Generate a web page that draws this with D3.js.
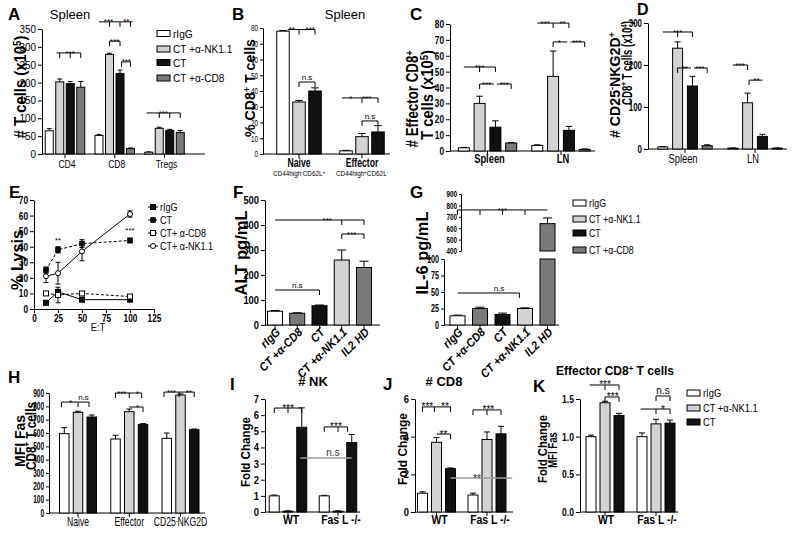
<!DOCTYPE html>
<html><head><meta charset="utf-8">
<script src="https://cdn.jsdelivr.net/npm/d3@7"></script>
<style>
body{margin:0;background:#fff}
svg{display:block}
</style></head><body>
<svg id="c" width="800" height="534"></svg>
<script>
// ---------------- DATA ----------------
const grp4 = ["rIgG","CT +α-NK1.1","CT","CT +α-CD8"];
const grp3 = ["rIgG","CT +α-NK1.1","CT"];
const grpF = ["rIgG","CT +α-CD8","CT","CT +α-NK1.1","IL2 HD"];

// A
const catsA = ["CD4","CD8","Tregs"];
const valsA = [[65,202,197,187],[52,279,225,15],[5,72,66,60]];
const errsA = [[6,8,6,16],[3,3,10,2],[1,3,3,6]];
const ticksA = [0,50,100,150,200,250,300,350];
// B
const catsB = ["Naive","Effector"];
const subB = ["CD44high^{-}CD62L^{+}","CD44high^{+}CD62L^{-}"];
const valsB = [[78,33,40],[2,11,14]];
const errsB = [[0.4,1,2],[0.3,2,4]];
const ticksB = [0,10,20,30,40,50,60,70,80];
// C
const catsC = ["Spleen","LN"];
const valsC = [[2,30,15,5],[3.5,47,13,1]];
const errsC = [[0.3,4.5,4,0.3],[0.4,16,2.5,0.3]];
const ticksC = [0,10,20,30,40,50,60,70,80];
// D
const catsD = ["Spleen","LN"];
const valsD = [[5,240,150,8],[2,110,30,2]];
const errsD = [[1,15,23,2],[0.5,23,5,0.5]];
const ticksD = [0,100,200,300];
// E
const lysisET = [12.5,25,50,100];
const lysisNames = ["rIgG","CT","CT+ α-CD8","CT+ α-NK1.1"];
const lysisVals = [[4,11,6,6],[25,38,42,44],[10,9,10,8],[21,23,37,61]];
const lysisErrs = [[0.5,1.5,0.5,0.5],[2,2,2.5,1.5],[1,5,1,1],[4,7,6,2]];
const ticksEx = [0,25,50,75,100,125];
const ticksEy = [0,10,20,30,40,50,60,70];
// F
const valsF = [55,47,77,260,230];
const errsF = [3,2,3,40,25];
const ticksF = [0,100,200,300,400,500];
// G
const valsG = [14,25,16,25,640];
const errsG = [1,2,2,1,50];
const ticksGlow = [0,25,50,75,100];
const ticksGhigh = [400,500,600,700,800,900];
// H
const catsH = ["Naive","Effector","CD25^{-}NKG2D"];
const valsH = [[595,755,720],[555,760,665],[560,885,625]];
const errsH = [[45,8,15],[28,20,5],[40,8,5]];
const ticksH = [0,100,200,300,400,500,600,700,800,900];
// I, J, K
const catsKO = ["WT","Fas L -/-"];
const valsI = [[1.0,0.05,5.25],[1.0,0.05,4.3]];
const errsI = [[0.05,0.02,1.2],[0.03,0.02,0.5]];
const ticksI = [0,1,2,3,4,5,6,7];
const valsJ = [[1.0,3.7,2.3],[0.9,3.85,4.15]];
const errsJ = [[0.07,0.25,0.04],[0.1,0.4,0.4]];
const ticksJ = [0,2,4,6];
const valsK = [[1.0,1.45,1.28],[1.0,1.17,1.18]];
const errsK = [[0.02,0.02,0.03],[0.05,0.06,0.04]];
const ticksK = [0,0.5,1.0,1.5];

// significance annotations (group, bar positions, value level, ticks, labels)
const sigA = [
 {g:0,s1:0.7,s2:3,v:283,ticks:[1,2,3],labels:[["***",2]]},
 {g:1,s1:0,s2:3.2,v:370,ticks:[1,2,3],labels:[["***",0.9],["**",2.6]]},
 {g:1,s1:1,s2:2,v:316,ticks:[1,2],labels:[["***",1.5]]},
 {g:1,s1:2.15,s2:3,v:258,ticks:[2.15,3],labels:[["***",2.6]]},
 {g:2,s1:-0.2,s2:3,v:115,ticks:[1,2,3],labels:[["***",1.4]]}
];
const sigB = [
 {g:0,s1:0.3,s2:2,v:79,ticks:[1,2],labels:[["**",0.55],["***",1.7]]},
 {g:0,s1:1,s2:2,v:45.7,ticks:[1,2],labels:[["n.s",1.5]]},
 {g:1,s1:-0.25,s2:2,v:35.6,ticks:[1,2],labels:[["*",0.3],["***",1.3]]},
 {g:1,s1:1,s2:2,v:21,ticks:[1,2],labels:[["n.s",1.5]]}
];
const sigC = [
 {g:0,s1:0,s2:2,v:52.9,ticks:[1,2],labels:[["***",1]]},
 {g:0,s1:1,s2:1.9,v:42.2,ticks:[1],labels:[["***",1.45]]},
 {g:0,s1:2.1,s2:3,v:42.2,ticks:[3],labels:[["***",2.55]]},
 {g:1,s1:0,s2:2,v:80.6,ticks:[1,2],labels:[["***",0.5],["**",1.6]]},
 {g:1,s1:1,s2:1.9,v:68.7,ticks:[1],labels:[["*",1.4]]},
 {g:1,s1:2.1,s2:3,v:68.7,ticks:[3],labels:[["***",2.5]]}
];
const sigD = [
 {g:0,s1:0,s2:2,v:278.6,ticks:[1,2],labels:[["***",1]]},
 {g:0,s1:1,s2:1.9,v:193,ticks:[1],labels:[["**",1.5]]},
 {g:0,s1:2.1,s2:3,v:193,ticks:[3],labels:[["***",2.5]]},
 {g:1,s1:0,s2:1,v:200,ticks:[1],labels:[["***",0.5]]},
 {g:1,s1:1.1,s2:2,v:164,ticks:[1.1],labels:[["**",1.6]]}
];
const sigE = [["**",25,44],["***",100,51]];
const sigF = [
 {g:0,s1:0,s2:4,v:420,ticks:[3,4],labels:[["***",2.35]]},
 {g:0,s1:3,s2:4,v:364,ticks:[3,4],labels:[["***",3.45]]},
 {g:0,s1:0,s2:2,v:140,ticks:[2],labels:[["n.s",1]]}
];
const sigG = [
 {g:0,s1:0,s2:4,v:760,ticks:[0,1,2,3],labels:[["***",2]]},
 {g:0,s1:0,s2:2.75,v:48.5,ticks:[2.75],labels:[["n.s",1.85]]}
];
const sigH = [
 {g:0,s1:-0.2,s2:1.8,v:832,ticks:[-0.2,1,1.8],labels:[["*",0.45],["n.s",1.4]]},
 {g:1,s1:0,s2:1.9,v:900,ticks:[0,1,1.9],labels:[["***",0.45],["*",1.6]]},
 {g:1,s1:1,s2:2,v:795,ticks:[2],labels:[["*",1.6]]},
 {g:2,s1:-0.2,s2:2,v:907,ticks:[-0.2,0.9,2],labels:[["***",0.35],["**",1.6]]}
];
const sigI = [
 {g:0,s1:0,s2:2,v:6.44,ticks:[0,1,2],labels:[["***",1]]},
 {g:1,s1:0,s2:1.7,v:5.27,ticks:[0,1,1.7],labels:[["***",0.85]]},
 {g:0,s1:1.9,g2:1,s2:2,v:3.35,ticks:[],labels:[["n.s",4.27]],gray:true}
];
const sigJ = [
 {g:0,s1:0,s2:2,v:5.58,ticks:[0,0.85,2],labels:[["***",0.35],["**",1.6]]},
 {g:0,s1:1,s2:2,v:4.14,ticks:[2],labels:[["**",1.5]]},
 {g:1,s1:0,s2:2,v:5.42,ticks:[0,1,2],labels:[["***",1.1]]},
 {g:0,s1:2,g2:1,s2:2.8,v:1.8,ticks:[],labels:[["**",3.9]],gray:true}
];
const sigK = [
 {g:0,s1:-0.1,s2:2,v:1.686,ticks:[1,2],labels:[["***",1]]},
 {g:0,s1:1,s2:2,v:1.527,ticks:[1,2],labels:[["***",1.55]]},
 {g:1,s1:-0.1,s2:2,v:1.367,ticks:[1,2],labels:[["*",1.5]]},
 {g:1,s1:1,s2:2,v:1.54,ticks:[1,2],labels:[["n.s",1.5]]}
];

// ---------------- DRAWING ----------------
const svg = d3.select("#c");
const FS = "'Liberation Sans',Arial,sans-serif";
const COL = {"rIgG":"#ffffff","CT +α-NK1.1":"#d3d3d3","CT":"#111111","CT +α-CD8":"#7a7a7a","IL2 HD":"#7a7a7a"};

function rich(sel, str){
  const re=/\^\{([^}]*)\}/g; let last=0,m;
  while((m=re.exec(str))){
    if(m.index>last) sel.append("tspan").text(str.slice(last,m.index));
    sel.append("tspan").attr("baseline-shift","super").attr("font-size","65%").text(m[1]);
    last=re.lastIndex;
  }
  if(last<str.length) sel.append("tspan").text(str.slice(last));
  return sel;
}
function txt(x,y,str,o={}){
  const t=svg.append("text").attr("x",0).attr("y",0)
    .attr("font-family",FS).attr("font-size",o.fs||12)
    .attr("font-weight",o.fw||"normal").attr("font-style",o.fst||"normal")
    .attr("text-anchor",o.anchor||"start").attr("fill",o.fill||"#000");
  rich(t,str);
  let sx=o.sx||1;
  if(o.len){ const L=t.node().getComputedTextLength(); if(L>0) sx=o.len/L; }
  t.attr("transform",`translate(${x},${y})`+(o.rot?` rotate(${o.rot})`:"")+(sx!==1?` scale(${sx},1)`:""));
  return t;
}
function ytitle(x,y,str,fs,len){ txt(x,y,str,{fs:fs,fw:"bold",anchor:"middle",rot:-90,len:len}); }
function legend(x,rows,keys,sx){
  keys.forEach((k,i)=>{
    svg.append("rect").attr("x",x).attr("y",rows[i]-3).attr("width",13).attr("height",6)
      .attr("fill",COL[k]).attr("stroke","#000").attr("stroke-width",1);
    txt(x+16,rows[i]+4,k,{fs:11,sx:sx});
  });
}
function styleAxis(ax,fs,sx,fw,off){
  ax.selectAll("text").attr("font-size",fs).attr("font-weight",fw).attr("font-family",FS).attr("fill","#000");
  if(off!==undefined) ax.selectAll("text").attr("x",-off/sx).attr("transform",`scale(${sx},1)`);
  else ax.selectAll("text").attr("transform",`scale(${sx},1)`);
  ax.selectAll("line,path").attr("stroke","#000");
}

function barPanel(o){
  const G=svg.append("g");
  const single=o.series.length===1;
  const y=d3.scaleLinear().domain(o.yDomain||o.axes[0].domain).range(o.yRange||o.axes[0].range);
  const xo=d3.scalePoint().domain(o.cats).range(o.xRange);
  const half=(o.series.length-1)/2*(o.step||0);
  const xi=d3.scalePoint().domain(o.series).range([-half,half]);
  const ist=single?xo.step():xi.step();
  const px=(g,s)=> single ? xo(o.cats[0])+(g+s)*xo.step() : xo(o.cats[g])+xi(o.series[0])+s*ist;
  // axes
  o.axes.forEach(a=>{
    const sc=d3.scaleLinear().domain(a.domain).range(a.range);
    const ts=a.tickSize||o.tickSize||4;
    const ax=G.append("g").attr("transform",`translate(${a.x||o.axisX},0)`)
      .call(d3.axisLeft(sc).tickValues(a.ticks).tickSize(ts).tickSizeOuter(0).tickFormat(a.fmt||(d=>d)));
    styleAxis(ax,a.fs||o.tickFs||11,a.sx||o.tickSx||0.8,o.tickFw||"bold",ts+2);
  });
  const y0=y(0);
  G.append("line").attr("x1",o.axisX).attr("x2",o.axisEnd).attr("y1",y0).attr("y2",y0).attr("stroke","#000");
  o.cats.forEach(c=>G.append("line").attr("x1",xo(c)).attr("x2",xo(c)).attr("y1",y0).attr("y2",y0+4).attr("stroke","#000"));
  // bars
  o.cats.forEach((c,gi)=>o.series.forEach((s,si)=>{
    const v=o.vals[gi][si], e=o.errs[gi][si];
    const cx=xo(c)+xi(s), hw=o.barW/2, cw=hw*0.6;
    const fill=COL[single?c:s];
    G.append("line").attr("x1",cx).attr("x2",cx).attr("y1",y(v)).attr("y2",y(v+e)).attr("stroke","#000");
    G.append("line").attr("x1",cx-cw).attr("x2",cx+cw).attr("y1",y(v+e)).attr("y2",y(v+e)).attr("stroke","#000");
    const seg=(a,b)=>G.append("rect").attr("x",cx-hw).attr("y",y(b)).attr("width",o.barW).attr("height",Math.max(0,y(a)-y(b)))
      .attr("fill",fill).attr("stroke","#000").attr("stroke-width",1);
    if(o.brk && v>o.brk[0]){ seg(0,o.brk[0]); seg(o.brk[1],v); } else seg(0,v);
  }));
  // category labels
  o.cats.forEach((c,gi)=>{
    if(o.rotLab){
      txt(xo(c)+6,o.labY,c,{fs:12,fw:"bold",fst:"italic",anchor:"end",rot:-45,sx:0.9});
    } else {
      txt(xo(c)+(o.labDx||0),o.labY,c,{fs:o.labFs||12,fw:o.labFw||"normal",anchor:"middle",sx:o.labSx||0.75});
      if(o.sub) txt(xo(c)+(o.labDx||0),o.labY+9,o.sub[gi],{fs:8,anchor:"middle",sx:0.8});
    }
  });
  // significance brackets
  const sfs=o.sigFs||8;
  (o.sig||[]).forEach(b=>{
    const col=b.gray?"#9a9a9a":"#000";
    const yy=y(b.v), x1=px(b.g,b.s1), x2=px(b.g2!==undefined?b.g2:b.g,b.s2);
    G.append("line").attr("x1",x1).attr("x2",x2).attr("y1",yy).attr("y2",yy).attr("stroke",col).attr("stroke-width",b.gray?1.5:1);
    b.ticks.forEach(t=>{const xx=px(b.g,t);
      G.append("line").attr("x1",xx).attr("x2",xx).attr("y1",yy).attr("y2",yy+5).attr("stroke",col);});
    b.labels.forEach(([s,p])=>{
      const star=s.indexOf("*")>=0;
      txt(px(b.g,p), star? yy-1+0.45*sfs : yy-2, s,{fs:sfs,anchor:"middle",fill:b.gray?"#333":"#000"});
    });
  });
  return {y,px};
}

// ---- Panel A ----
txt(8,20,"A",{fs:17,fw:"bold"});
txt(70,19,"Spleen",{fs:13,anchor:"middle"});
ytitle(26,87,"# T cells  (x10^{5})",16,103);
barPanel({cats:catsA,series:grp4,vals:valsA,errs:errsA,xRange:[65,164.5],step:10.5,barW:8,
  axisX:42,axisEnd:205,axes:[{domain:[0,350],range:[154,29],ticks:ticksA}],labY:168,labDx:2,labFs:11,labSx:0.78,tickSx:0.9,tickFw:"normal",sig:sigA});
legend(157,[33.5,49,62.5,78],grp4,0.92);

// ---- Panel B ----
txt(232,20,"B",{fs:17,fw:"bold"});
txt(345,19,"Spleen",{fs:13,anchor:"middle"});
ytitle(255,88,"% CD8^{+} T cells",15,98);
barPanel({cats:catsB,series:grp3,vals:valsB,errs:errsB,xRange:[299,362],step:16,barW:12.5,
  axisX:263,axisEnd:390,axes:[{domain:[0,80],range:[154,28],ticks:ticksB,tickSize:3}],tickFs:9,tickSx:0.7,labY:167,labFs:12,labFw:"bold",labSx:0.72,sub:subB,tickFw:"normal",sig:sigB});

// ---- Panel C ----
txt(410,20,"C",{fs:17,fw:"bold"});
ytitle(418,99,"# Effector CD8^{+}",16,97);
ytitle(433,95,"T cells (x10^{5})",16,90);
barPanel({cats:catsC,series:grp4,vals:valsC,errs:errsC,xRange:[487.5,561],step:15.8,barW:11,
  axisX:450,axisEnd:595,axes:[{domain:[0,80],range:[151,24],ticks:ticksC}],tickSx:0.75,labY:163,labDx:2,labFs:13,labFw:"bold",labSx:0.72,sig:sigC});

// ---- Panel D ----
txt(637,15,"D",{fs:16,fw:"bold"});
ytitle(620,85,"# CD25^{-}NKG2D^{+}",15,106);
ytitle(632,63,"CD8^{+} T cells (x10^{4})",15,84);
barPanel({cats:catsD,series:grp4,vals:valsD,errs:errsD,xRange:[685,755],step:14.8,barW:10,
  axisX:648,axisEnd:787,axes:[{domain:[0,300],range:[149,23],ticks:ticksD}],tickSx:0.72,labY:163,labFs:13,labSx:0.72,labDx:-2,sig:sigD});

// ---- Panel E ----
(function(){
  txt(9,198,"E",{fs:17,fw:"bold"});
  ytitle(23,260,"% Lysis",16,60);
  const x=d3.scaleLinear().domain([0,125]).range([34,154]);
  const y=d3.scaleLinear().domain([0,70]).range([309,200]);
  const G=svg.append("g");
  const ay=G.append("g").attr("transform","translate(34,0)").call(d3.axisLeft(y).tickValues(ticksEy).tickSize(4).tickSizeOuter(0));
  const ax=G.append("g").attr("transform","translate(0,309)").call(d3.axisBottom(x).tickValues(ticksEx).tickSize(4).tickSizeOuter(0).tickPadding(1));
  styleAxis(ay,11,0.75,"bold",6);
  styleAxis(ax,11,0.75,"bold");
  txt(98,331,"E:T",{fs:11,anchor:"middle",sx:0.85});
  const styles=[{dash:null,fill:"#111",sz:5},{dash:"3,2",fill:"#111",sz:4.5},{dash:"3,2",fill:"#fff",sz:5},{dash:null,fill:"#fff",sz:5,circ:true}];
  const line=d3.line().x(d=>x(d[0])).y(d=>y(d[1]));
  const drawMarker=(cx,cy,st)=>{
    if(st.circ) G.append("circle").attr("cx",cx).attr("cy",cy).attr("r",st.sz/2).attr("fill",st.fill).attr("stroke","#000");
    else G.append("rect").attr("x",cx-st.sz/2).attr("y",cy-st.sz/2).attr("width",st.sz).attr("height",st.sz).attr("fill",st.fill).attr("stroke","#000");
  };
  lysisVals.forEach((vals,i)=>{
    const st=styles[i], pts=lysisET.map((e,j)=>[e,vals[j]]);
    G.append("path").attr("d",line(pts)).attr("fill","none").attr("stroke","#000").attr("stroke-dasharray",st.dash);
    pts.forEach((p,j)=>{const e=lysisErrs[i][j],cx=x(p[0]);
      G.append("line").attr("x1",cx).attr("x2",cx).attr("y1",y(p[1]-e)).attr("y2",y(p[1]+e)).attr("stroke","#000");
      [p[1]-e,p[1]+e].forEach(v=>G.append("line").attr("x1",cx-2.5).attr("x2",cx+2.5).attr("y1",y(v)).attr("y2",y(v)).attr("stroke","#000"));
    });
    pts.forEach(p=>drawMarker(x(p[0]),y(p[1]),st));
  });
  sigE.forEach(([s,e,v])=>txt(x(e),y(v)+3,s,{fs:8,anchor:"middle"}));
  const rows=[207,220,233,246];
  lysisNames.forEach((n,i)=>{
    G.append("line").attr("x1",148).attr("x2",158).attr("y1",rows[i]).attr("y2",rows[i]).attr("stroke","#000").attr("stroke-dasharray",styles[i].dash?"2,1.5":null);
    drawMarker(153,rows[i],styles[i]);
    txt(160,rows[i]+4,n,{fs:11,sx:0.82});
  });
})();

// ---- Panel F ----
txt(233,198,"F",{fs:17,fw:"bold"});
ytitle(247,253,"ALT pg/mL",16,85);
barPanel({cats:grpF,series:["v"],vals:valsF.map(v=>[v]),errs:errsF.map(v=>[v]),xRange:[275,364],barW:15,
  axisX:265,axisEnd:380,axes:[{domain:[0,500],range:[325,200],ticks:ticksF}],tickSx:0.85,labY:333,rotLab:true,sig:sigF});

// ---- Panel G ----
txt(410,198,"G",{fs:17,fw:"bold"});
ytitle(428,253,"IL-6 pg/mL",16,83);
barPanel({cats:grpF,series:["v"],vals:valsG.map(v=>[v]),errs:errsG.map(v=>[v]),xRange:[457.5,547.5],barW:15,
  axisX:444,axisEnd:559,yDomain:[0,100,400,900],yRange:[325,259,251,194],brk:[100,400],
  axes:[{domain:[0,100],range:[325,259],ticks:ticksGlow,fs:10,sx:0.72,tickSize:3},
        {x:461,domain:[400,900],range:[251,194],ticks:ticksGhigh,fs:9,sx:0.7,tickSize:2}],
  labY:333,rotLab:true,sig:sigG});
legend(573,[203,219,233,250],grp4,0.8);

// ---- Panel H ----
txt(8,383,"H",{fs:17,fw:"bold"});
ytitle(25,441,"MFI Fas",15,52);
ytitle(36,436,"CD8^{+} T cells",15,68);
barPanel({cats:catsH,series:grp3,vals:valsH,errs:errsH,xRange:[78,180.5],step:13.75,barW:9.5,
  axisX:49,axisEnd:205,axes:[{domain:[0,900],range:[513,393],ticks:ticksH}],tickSize:3,tickFs:10,tickSx:0.65,labY:526,labFs:12,labSx:0.72,sig:sigH});

// ---- Panel I ----
txt(230,390,"I",{fs:17,fw:"bold"});
txt(313,386,"# NK",{fs:13,fw:"bold",anchor:"middle"});
ytitle(250,452,"Fold Change",13,70);
barPanel({cats:catsKO,series:grp3,vals:valsI,errs:errsI,xRange:[288,338],step:13.75,barW:10,
  axisX:265,axisEnd:360,axes:[{domain:[0,7],range:[512,399],ticks:ticksI}],tickSx:0.85,labY:524,labDx:3,labFs:13,labFw:"bold",labSx:0.8,sig:sigI,sigFs:10});

// ---- Panel J ----
txt(383,390,"J",{fs:17,fw:"bold"});
txt(444,386,"# CD8",{fs:13,fw:"bold",anchor:"middle"});
ytitle(407,449,"Fold Change",13,72);
barPanel({cats:catsKO,series:grp3,vals:valsJ,errs:errsJ,xRange:[436.5,487],step:14,barW:10,
  axisX:415,axisEnd:513,axes:[{domain:[0,6],range:[512,399],ticks:ticksJ}],tickSx:0.85,labY:524,labDx:3,labFs:13,labFw:"bold",labSx:0.8,sig:sigJ,sigFs:10});

// ---- Panel K ----
txt(533,392,"K",{fs:17,fw:"bold"});
txt(615,375,"Effector CD8^{+}  T cells",{fs:12,fw:"bold",anchor:"middle"});
ytitle(547,449,"Fold Change",13,68);
ytitle(557,450,"MFI Fas",13,36);
barPanel({cats:catsKO,series:grp3,vals:valsK,errs:errsK,xRange:[605,656],step:14,barW:10,
  axisX:580,axisEnd:678,axes:[{domain:[0,1.5],range:[512,399],ticks:ticksK,fmt:d3.format(".1f")}],tickSx:0.78,labY:524,labDx:1,labFs:13,labFw:"bold",labSx:0.8,sig:sigK,sigFs:10});
legend(687,[393,408,422],grp3,0.85);
</script>
</body></html>
